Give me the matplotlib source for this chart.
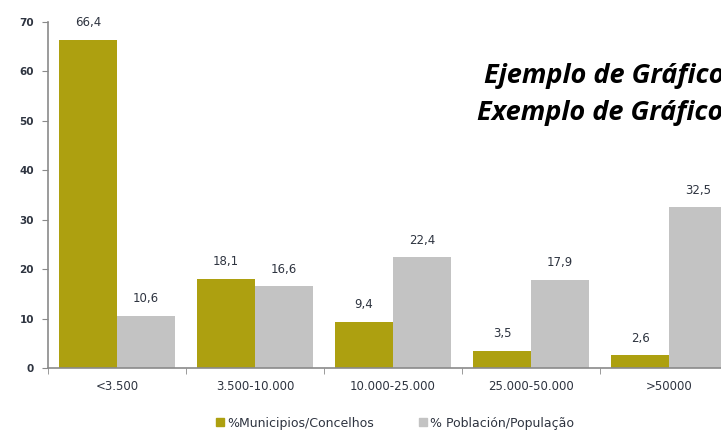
import numpy as np
import matplotlib
matplotlib.use("Agg")
import matplotlib.pyplot as plt
from matplotlib import font_manager as fm
from matplotlib.patches import Patch

# data
categories = ["<3.500", "3.500-10.000", "10.000-25.000", "25.000-50.000", ">50000"]
municipios = [66.4, 18.1, 9.4, 3.5, 2.6]
poblacion = [10.6, 16.6, 22.4, 17.9, 32.5]
series_names = ["%Municipios/Concelhos", "% Población/População"]
title_lines = ["Ejemplo de Gráfico", "Exemplo de Gráfico"]

gold = "#ADA010"
grey = "#C3C3C3"
text_col = "#2E3440"
axis_col = "#8A8A8A"


def fmt(v):
    return f"{v:.1f}".replace(".", ",")


# bold italic Open Sans for the title (normal width file)
title_font = fm.FontProperties(family="Open Sans", weight="bold", style="italic", size=19.5)
hits = [f.fname for f in fm.fontManager.ttflist if f.fname.endswith("OpenSans-BoldItalic.ttf")]
if hits:
    title_font = fm.FontProperties(fname=hits[0], size=19.5)

fig = plt.figure(figsize=(7.21, 4.33), dpi=100)
ax = fig.add_axes([48 / 721, 65 / 433, 1 - 48 / 721, 346 / 433])

x = np.arange(len(categories))
w = 0.42
b1 = ax.bar(x - w / 2, municipios, w, color=gold, label=series_names[0])
b2 = ax.bar(x + w / 2, poblacion, w, color=grey, label=series_names[1])

for bars, vals in [(b1, municipios), (b2, poblacion)]:
    for r, v in zip(bars, vals):
        ax.annotate(fmt(v), (r.get_x() + r.get_width() / 2, v),
                    xytext=(0, 7.5), textcoords="offset points",
                    ha="center", va="bottom", fontsize=8.5, color=text_col)

ax.set_yticks(range(0, 71, 10))
ax.set_xticks(x)
ax.set_xticklabels(categories)
ax.set_xticks(np.arange(len(categories) + 1) - 0.5, minor=True)
# limits after ticks, set_xticks widens the view otherwise
ax.set_xlim(-0.5, (721 - 48) / 138 - 0.5)
ax.set_ylim(0, 70)
ax.tick_params(axis="x", which="major", length=0, pad=9, labelsize=8.5, labelcolor=text_col)
ax.tick_params(axis="x", which="minor", length=4, color=axis_col, direction="out")
ax.tick_params(axis="y", length=4, color=axis_col, labelsize=7.5, labelcolor=text_col, pad=6)
for lbl in ax.get_yticklabels():
    lbl.set_fontweight("bold")

for s in ["top", "right"]:
    ax.spines[s].set_visible(False)
for s in ["left", "bottom"]:
    ax.spines[s].set_color(axis_col)
    ax.spines[s].set_linewidth(1.2)

# title, running off the right edge as in the original
fig.text(484 / 721, 1 - 83 / 433, title_lines[0], fontproperties=title_font,
         va="baseline", ha="left")
fig.text(477 / 721, 1 - 120 / 433, title_lines[1], fontproperties=title_font,
         va="baseline", ha="left")

handles = [Patch(color=gold), Patch(color=grey)]
fig.legend(handles, series_names, loc="center", bbox_to_anchor=(395 / 721, 10 / 433),
           ncol=2, frameon=False, fontsize=9, handlelength=0.64, handleheight=0.64,
           handletextpad=0.25, columnspacing=3.6, labelcolor=text_col)

fig.savefig("out.png", dpi=100)
